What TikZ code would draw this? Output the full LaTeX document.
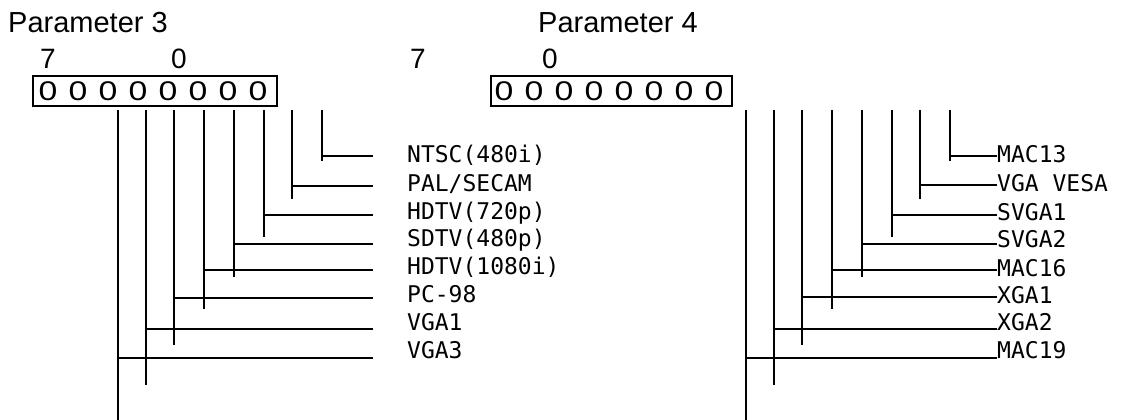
\documentclass[tikz,border=0pt]{standalone}
\usepackage{fontspec}
\usepackage{graphicx}
\setmainfont{Liberation Sans}
\newfontfamily\gothic{DejaVu Sans Mono}
\usetikzlibrary{positioning}
\newcommand{\wbit}{\scalebox{1.25}[1]{0}}
\tikzset{
    title/.style={
    anchor=base west,inner sep=0pt,font=\fontsize{29}{31}\selectfont
    },
    bitno/.style={
    anchor=base,inner sep=0pt,font=\fontsize{28}{30}\selectfont
    },
    register/.style={
    rectangle,draw=black,line width=2pt,minimum height=30pt,inner sep=0pt
    },
    bit/.style={
    anchor=base,inner sep=0pt,font=\fontsize{27}{30}\selectfont
    },
    mode/.style={
    anchor=base west,inner sep=0pt,font=\gothic\fontsize{23}{25}\selectfont
    },
    wire/.style={
    draw=black,line width=2pt
    },
}

\begin{document}
\begin{tikzpicture}[x=1pt,y=-1pt]
   \useasboundingbox (0,0) rectangle (1121,420);

   % parameter 3
   \node[title] (P3) at (8,33) {Parameter 3};
   \node[bitno] (h3) at (48,69) {7};
   \node[bitno] (l3) at (179,69) {0};
   \node[register,minimum width=244pt] (R3) at (155,91) {};
   \foreach \i in {0,...,7}
     \node[bit] (a\i) at ({258-30*\i},100.5) {\wbit};

   % parameter 4
   \node[title] (P4) at (538,33) {Parameter 4};
   \node[bitno] (h4) at (418,69) {7};
   \node[bitno] (l4) at (550,69) {0};
   \node[register,minimum width=241pt] (R4) at (611.5,91) {};
   \foreach \i in {0,...,7}
     \node[bit] (b\i) at ({714-30*\i},100.5) {\wbit};

   % modes of parameter 3
   \node[mode] (m0) at (407,162) {NTSC(480i)};
   \node[mode] (m1) at (407,191) {PAL/SECAM};
   \node[mode] (m2) at (407,219) {HDTV(720p)};
   \node[mode] (m3) at (407,246) {SDTV(480p)};
   \node[mode] (m4) at (407,274) {HDTV(1080i)};
   \node[mode] (m5) at (407,302) {PC-98};
   \node[mode] (m6) at (407,330) {VGA1};
   \node[mode] (m7) at (407,358) {VGA3};

   % modes of parameter 4
   \node[mode] (n0) at (997,162) {MAC13};
   \node[mode] (n1) at (997,191) {VGA VESA};
   \node[mode] (n2) at (997,220) {SVGA1};
   \node[mode] (n3) at (997,247) {SVGA2};
   \node[mode] (n4) at (997,276) {MAC16};
   \node[mode] (n5) at (997,303) {XGA1};
   \node[mode] (n6) at (997,330) {XGA2};
   \node[mode] (n7) at (997,358) {MAC19};

   % wires
   \foreach \n/\x/\b/\h in {7/118/420/358,6/146/385/329,5/174/345/298,4/204/309/270,
                            3/234/277/244,2/264/237/215,1/292/199/186,0/322/161/156}{
     \coordinate (u\n) at (\x,110);
     \coordinate (d\n) at (\x,\b);
     \coordinate (e\n) at (373,\h);
     \draw[wire] (u\n) -- (d\n);
     \draw[wire] (u\n |- e\n) -- (e\n);
   }
   \foreach \n/\x/\b/\h in {7/746/420/358,6/774/385/329,5/802/345/297,4/832/309/270,
                            3/862/277/244,2/892/237/215,1/920/199/185,0/950/161/156}{
     \coordinate (v\n) at (\x,110);
     \coordinate (w\n) at (\x,\b);
     \draw[wire] (v\n) -- (w\n);
     \draw[wire] (v\n |- 0,\h) -- (n\n.west |- 0,\h);
   }
\end{tikzpicture}
\end{document}
